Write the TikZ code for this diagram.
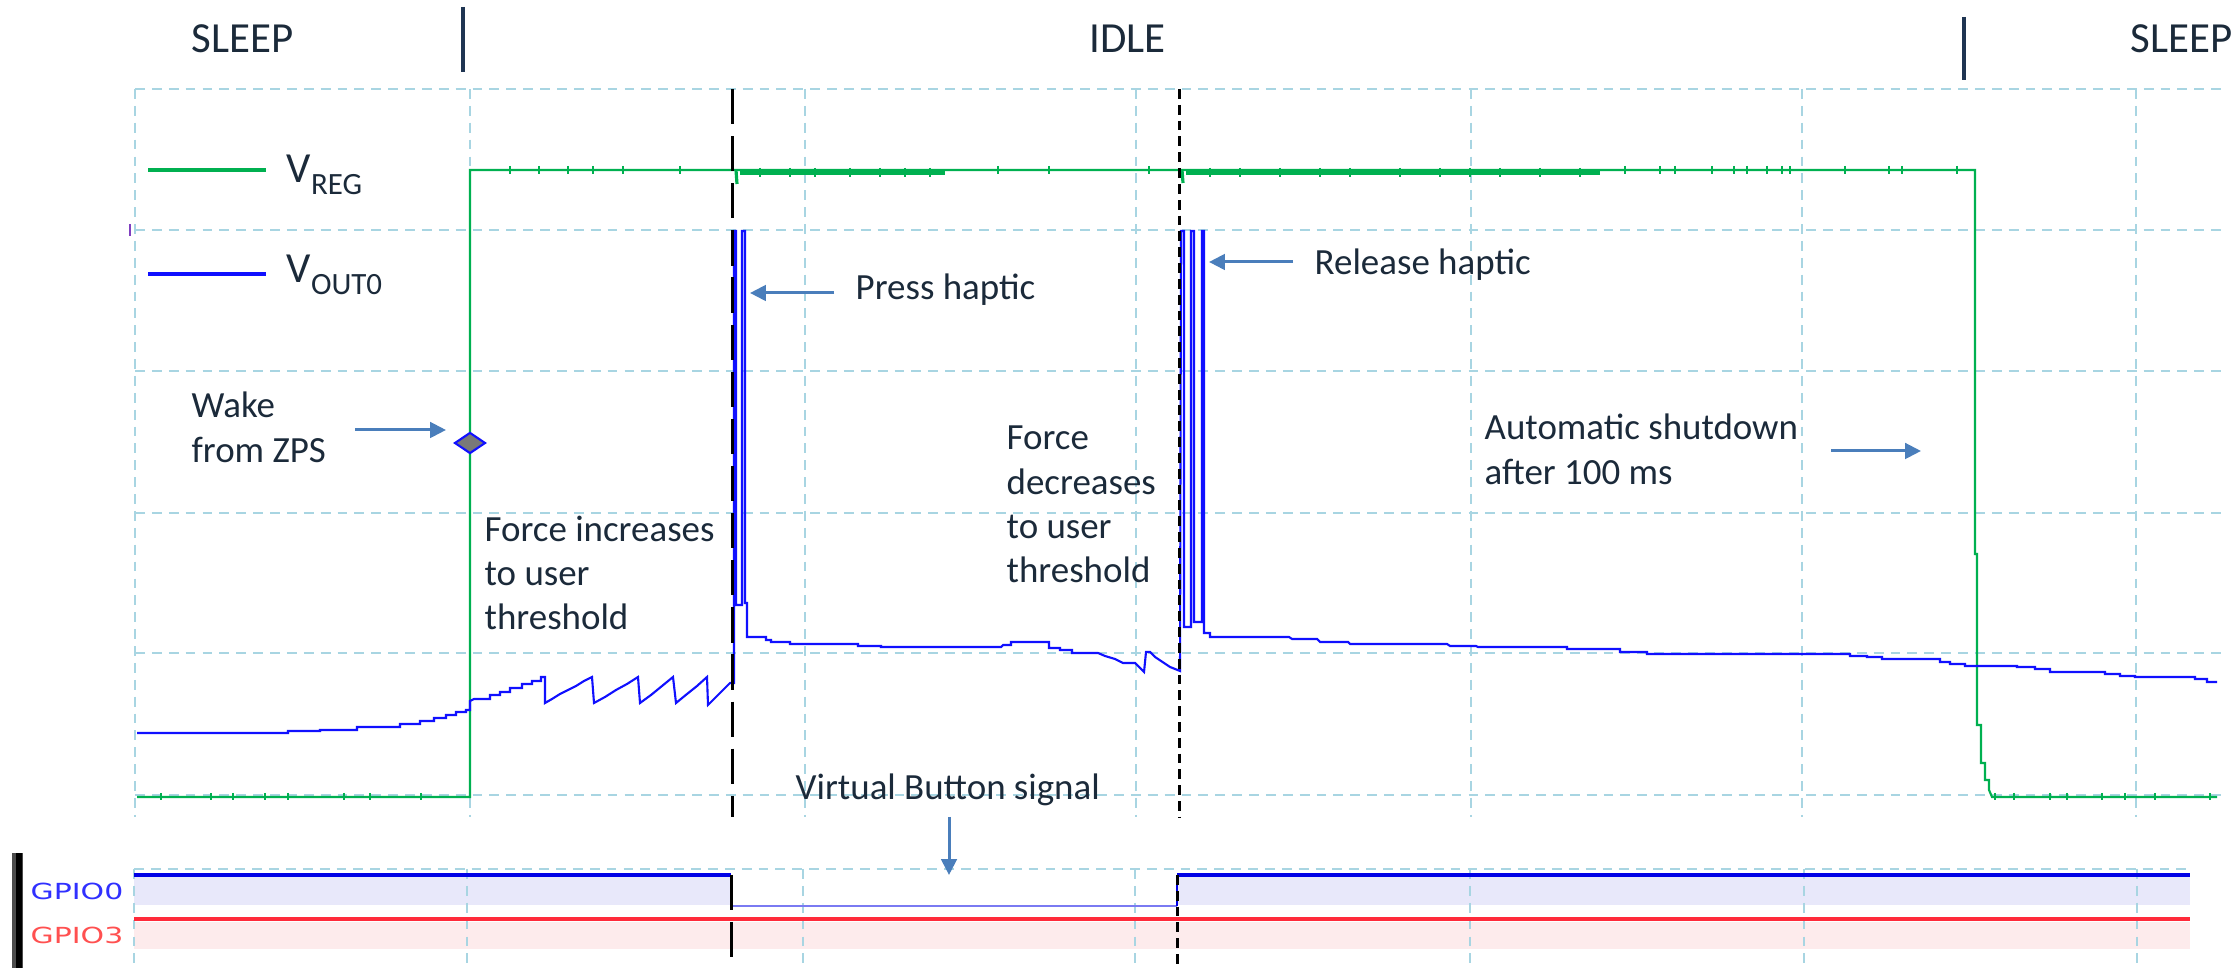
\documentclass[tikz,border=0pt]{standalone}
\usepackage{graphicx}
\usepackage{fontspec}
\setmainfont{Carlito}
\newfontfamily\gpiofont{DejaVu Sans}
\usetikzlibrary{arrows.meta,shapes.geometric}

\definecolor{txt}{HTML}{1B2A3A}
\definecolor{gridc}{HTML}{A8D5E2}
\definecolor{vreg}{HTML}{00B050}
\definecolor{vout}{HTML}{1010FF}
\definecolor{callc}{HTML}{4A7EBB}
\definecolor{barc}{HTML}{1F3552}
\definecolor{gzline}{HTML}{0000E6}
\definecolor{gzfill}{HTML}{E8E8FA}
\definecolor{gzlow}{HTML}{7A7AF2}
\definecolor{gtline}{HTML}{FF2A3A}
\definecolor{gtfill}{HTML}{FDEBEC}
\definecolor{gztxt}{HTML}{3030FF}
\definecolor{gttxt}{HTML}{FF5050}
\definecolor{markc}{HTML}{8040C0}

\tikzset{
  gridline/.style={gridc, line width=0.6pt, dash pattern=on 2.8pt off 2pt},
  statelabel/.style={font=\fontsize{12.2}{14}\selectfont, text=txt, anchor=base west, inner sep=0pt},
  note/.style={font=\fontsize{10.5}{12.5}\selectfont, text=txt, anchor=base west, inner sep=0pt},
  gpiolabel/.style={font=\gpiofont\fontsize{6.3}{7}\selectfont, anchor=base west, inner sep=0pt},
  callout/.style={callc, line width=0.85pt, -{Triangle[length=4.5pt,width=4.4pt]}},
  statebar/.style={barc, line width=1pt},
  regtrace/.style={vreg, line width=0.6pt},
  outtrace/.style={vout, line width=0.6pt},
  regtick/.style={vreg, line width=0.5pt},
  pressmark/.style={black, line width=0.85pt, dash pattern=on 10pt off 3.4pt},
  releasemark/.style={black, line width=0.85pt, dash pattern=on 2.8pt off 1.7pt},
  wakemark/.style={diamond, draw=vout, fill=gray!95!black, line width=0.6pt,
    minimum width=8.8pt, minimum height=6pt, inner sep=0pt},
}

\begin{document}
\begin{tikzpicture}[x=0.01cm, y=-0.01cm]
\useasboundingbox (0,0) rectangle (2234,968);
\fill[white] (0,0) rectangle (2234,968);

% ---------- scope grid ----------
\foreach \gy in {89,230,371,513,653,795}
  \draw[gridline] (135,\gy) -- (2222,\gy);
\foreach \gx in {135,470,805,1136,1471,1802,2136}
  \draw[gridline] (\gx,89) -- (\gx,817);
\draw[markc, line width=0.5pt] (130,224) -- (130,236);

% ---------- state bar ----------
\node[statelabel] (sleepA) at (191,53) {SLEEP};
\node[statelabel] (idle) at (1089,53) {IDLE};
\node[statelabel] (sleepB) at (2130,53) {SLEEP};
\coordinate (barAtop) at (463,7);   \coordinate (barAbot) at (463,72);
\coordinate (barBtop) at (1964,17); \coordinate (barBbot) at (1964,80);
\draw[statebar] (barAtop) -- (barAbot);
\draw[statebar] (barBtop) -- (barBbot);

% ---------- legend ----------
\coordinate (lgA1) at (148,170); \coordinate (lgA2) at (266,170);
\coordinate (lgB1) at (148,274); \coordinate (lgB2) at (266,274);
\draw[vreg, line width=1.1pt] (lgA1) -- (lgA2);
\draw[vout, line width=1.1pt] (lgB1) -- (lgB2);
\node[statelabel] (vregtxt) at (286,183) {V\raisebox{-3.4pt}{\fontsize{8.8}{10}\selectfont REG}};
\node[statelabel] (vouttxt) at (286,283) {V\raisebox{-3.4pt}{\fontsize{8.8}{10}\selectfont OUT0}};

% ---------- GPIO panel ----------
\fill[gzfill] (134,877) rectangle (731,905);
\fill[gzfill] (1177,877) rectangle (2190,905);
\fill[gtfill] (134,922) rectangle (2190,949);
\draw[gridline] (134,869) -- (2190,869);
\foreach \gx in {134,467,803,1135,1470,1804,2137}
  \draw[gridline] (\gx,869) -- (\gx,968);
\draw[gzline, line width=1.2pt] (134,875) -- (731,875);
\draw[gzlow, line width=0.5pt] (731,906) -- (1177,906);
\draw[gzline, line width=0.6pt] (1177,906) -- (1177,875);
\draw[gzline, line width=1.2pt] (1177,875) -- (2190,875);
\draw[gtline, line width=1.1pt] (134,919) -- (2190,919);
\fill[black!70] (12,853) rectangle (23,968);
\fill[black] (16,853) rectangle (22,968);
\node[gpiolabel, text=gztxt] (gpio0) at (30,900) {\scalebox{1.35}[1]{GPIO0}};
\node[gpiolabel, text=gttxt] (gpio3) at (30,943) {\scalebox{1.35}[1]{GPIO3}};

% ---------- V_REG trace ----------
\draw[regtrace] (137,797) -- (470,797) -- (470,170) -- (1975,170) -- (1975,554)
  -- (1977,554) -- (1977,725) -- (1981,725) -- (1981,763) -- (1985,763)
  -- (1985,780) -- (1989,780) -- (1989,790) -- (1992,797) -- (2217,797);
\draw[vreg, line width=1.3pt] (740,172.5) -- (945,172.5);
\draw[vreg, line width=1.3pt] (1186,172.5) -- (1600,172.5);
\draw[vreg, line width=0.9pt] (736,170) -- (737,184);
\draw[vreg, line width=0.9pt] (1182,170) -- (1183,183);
\foreach \tx in {510,539,568,593,623,680,998,1049,1149,1625,1660,1675,1712,1734,1747,1767,1782,1790,1845,1889,1902,1957}
  \draw[regtick] (\tx,166) -- (\tx,174);
\foreach \tx in {760,790,815,850,880,905,930,1210,1240,1280,1320,1350,1400,1440,1470,1500,1540,1580}
  \draw[regtick] (\tx,168) -- (\tx,177);
\foreach \tx in {161,211,233,265,288,344,370,421,1995,2014,2050,2067,2102,2125,2155,2210}
  \draw[regtick] (\tx,793) -- (\tx,800);

% ---------- V_OUT0 trace ----------
\draw[outtrace] (137,733) -- (288,733) -- (288,731) -- (320,731) -- (320,730) -- (357,730)
  -- (357,727) -- (400,727) -- (400,724) -- (420,724) -- (420,721) -- (434,721)
  -- (434,718) -- (446,718) -- (446,715) -- (456,715) -- (456,712) -- (466,712)
  -- (466,710) -- (470,710) -- (470,701) -- (474,699) -- (490,699) -- (490,695)
  -- (500,695) -- (500,692) -- (510,692) -- (510,688) -- (522,688) -- (522,684)
  -- (532,684) -- (532,681) -- (541,681) -- (541,677) -- (545,677) -- (545,703)
  -- (552,699) -- (560,694) -- (568,690) -- (576,686) -- (584,681) -- (592,677) -- (594,703)
  -- (605,697) -- (616,690) -- (627,684) -- (638,677) -- (640,703)
  -- (651,695) -- (662,686) -- (673,677) -- (676,703)
  -- (687,694) -- (697,686) -- (707,677) -- (708,705)
  -- (719,694) -- (730,683) -- (734,683)
  -- (734,231) -- (736,231) -- (736,605) -- (742,605) -- (742,231) -- (745,231)
  -- (745,603) -- (747,603) -- (747,637) -- (766,637) -- (766,640) -- (771,640)
  -- (771,642) -- (790,642) -- (790,644) -- (858,644) -- (858,646) -- (881,646)
  -- (881,647) -- (1001,647) -- (1003,645) -- (1011,645) -- (1011,642) -- (1049,642)
  -- (1049,648) -- (1060,648) -- (1060,650) -- (1072,650) -- (1072,653) -- (1098,653)
  -- (1105,656) -- (1115,659) -- (1123,663) -- (1135,663) -- (1139,667) -- (1144,672)
  -- (1146,652) -- (1150,652) -- (1155,657) -- (1164,663) -- (1170,667) -- (1180,671)
  -- (1181,231) -- (1184,231) -- (1184,627) -- (1191,627) -- (1191,231) -- (1194,231)
  -- (1194,622) -- (1202,622) -- (1202,231) -- (1204,231) -- (1204,633) -- (1210,633)
  -- (1210,637) -- (1289,637) -- (1292,639) -- (1317,639) -- (1320,642) -- (1348,642)
  -- (1350,644) -- (1447,644) -- (1450,646) -- (1476,646) -- (1478,647) -- (1567,647)
  -- (1567,649) -- (1620,649) -- (1620,652) -- (1647,652) -- (1647,654) -- (1850,654)
  -- (1850,656) -- (1867,656) -- (1867,657) -- (1882,657) -- (1882,659) -- (1940,659)
  -- (1940,662) -- (1950,662) -- (1950,664) -- (1965,664) -- (1965,666) -- (2017,666)
  -- (2017,667) -- (2035,667) -- (2035,669) -- (2050,669) -- (2050,672) -- (2105,672)
  -- (2105,674) -- (2120,674) -- (2120,676) -- (2135,676) -- (2135,677) -- (2195,677)
  -- (2195,679) -- (2207,679) -- (2207,682) -- (2217,682);

% ---------- press / release markers ----------
\coordinate (pressTop) at (732,89);  \coordinate (pressMid) at (732,817);
\coordinate (pressLo) at (731,875);  \coordinate (pressBot) at (731,968);
\coordinate (relTop) at (1179,89);   \coordinate (relMid) at (1179,817);
\coordinate (relLo) at (1177,875);   \coordinate (relBot) at (1177,968);
\draw[pressmark] (pressTop) -- (pressMid);
\draw[pressmark] (pressLo) -- (pressBot);
\draw[releasemark] (relTop) -- (relMid);
\draw[releasemark] (relLo) -- (relBot);

% ---------- wake marker ----------
\node[wakemark] (wake) at (470,443) {};

% ---------- annotations ----------
\node[note] (wake1) at (191,418) {Wake};
\node[note] (wake2) at (191,463) {from ZPS};
\node[note] (finc1) at (484,542) {Force increases};
\node[note] (finc2) at (484,586) {to user};
\node[note] (finc3) at (484,630) {threshold};
\node[note] (fdec1) at (1006,450) {Force};
\node[note] (fdec2) at (1006,495) {decreases};
\node[note] (fdec3) at (1006,539) {to user};
\node[note] (fdec4) at (1006,583) {threshold};
\node[note] (press) at (855,300) {Press haptic};
\node[note] (release) at (1314,275) {Release haptic};
\node[note] (auto1) at (1484,440) {Automatic shutdown};
\node[note] (auto2) at (1484,485) {after 100 ms};
\node[note] (vbs) at (795,800) {Virtual Button signal};

% ---------- callout arrows ----------
\coordinate (wakeTail) at (355,430);  \coordinate (wakeTip) at (446,430);
\coordinate (pressTail) at (834,293); \coordinate (pressTip) at (750,293);
\coordinate (relTail) at (1293,262);  \coordinate (relTip) at (1209,262);
\coordinate (autoTail) at (1831,451); \coordinate (autoTip) at (1921,451);
\coordinate (vbsTail) at (949,817);   \coordinate (vbsTip) at (949,875);
\draw[callout] (wakeTail) -- (wakeTip);
\draw[callout] (pressTail) -- (pressTip);
\draw[callout] (relTail) -- (relTip);
\draw[callout] (autoTail) -- (autoTip);
\draw[callout] (vbsTail) -- (vbsTip);
\end{tikzpicture}
\end{document}
